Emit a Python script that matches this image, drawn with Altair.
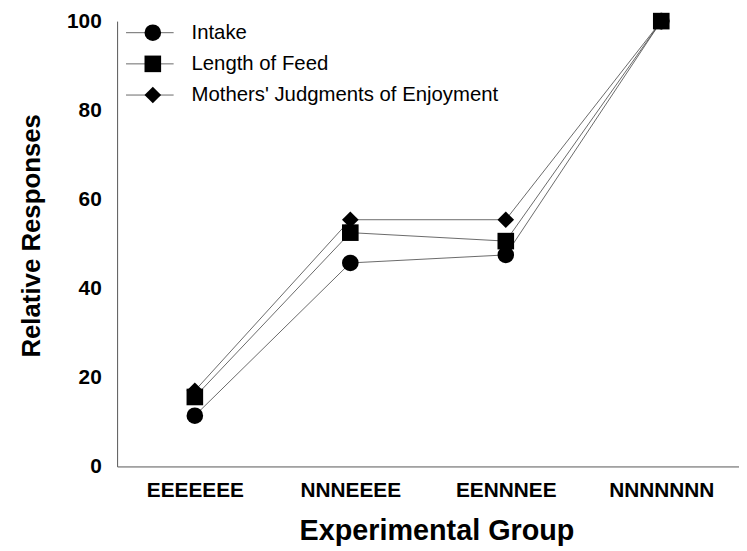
import altair as alt
import pandas as pd

groups = ["EEEEEEE", "NNNEEEE", "EENNNEE", "NNNNNNN"]
series = ["Intake", "Length of Feed", "Mothers' Judgments of Enjoyment"]
shapes = ["circle", "square", "diamond"]
intake = [11.4, 45.7, 47.5, 100]
length_of_feed = [15.6, 52.5, 50.6, 100]
mothers = [17.0, 55.4, 55.4, 100]

values = {series[0]: intake, series[1]: length_of_feed, series[2]: mothers}
draw_order = {series[2]: 0, series[0]: 1, series[1]: 2}

rows = []
for s in series:
    for g, v in zip(groups, values[s]):
        rows.append({"group": g, "series": s, "value": v, "order": draw_order[s]})
df = pd.DataFrame(rows).sort_values("order")

leg = pd.DataFrame({"series": series, "idx": list(range(len(series)))})

FONT = "Liberation Sans"

x_enc = alt.X(
    "group:N",
    sort=groups,
    scale=alt.Scale(type="point", padding=0.5),
    axis=alt.Axis(
        title="Experimental Group",
        labelAngle=0,
        ticks=False,
        tickSize=0,
        grid=False,
        labelPadding=30,
        labelBaseline="alphabetic",
        labelFont=FONT,
        labelFontSize=21,
        labelFontWeight="bold",
        labelColor="black",
        titleFont=FONT,
        titleFontSize=29,
        titleFontWeight="bold",
        titleColor="black",
        titleBaseline="alphabetic",
        titleAnchor="start",
        titleAlign="center",
        titleX=322,
        titleY=74,
        domainColor="#555555",
        domainWidth=1,
    ),
)
y_enc = alt.Y(
    "value:Q",
    scale=alt.Scale(domain=[0, 100], nice=False),
    axis=alt.Axis(
        title="Relative Responses",
        values=[0, 20, 40, 60, 80, 100],
        ticks=False,
        tickSize=0,
        grid=False,
        labelPadding=16,
        labelFont=FONT,
        labelFontSize=21,
        labelFontWeight="bold",
        labelColor="black",
        labelBaseline="middle",
        titleFont=FONT,
        titleFontSize=26,
        titleFontWeight="bold",
        titleColor="black",
        titleAngle=270,
        titleBaseline="alphabetic",
        titleAlign="center",
        titleX=-78,
        titleY=216,
        domainColor="#555555",
        domainWidth=1,
    ),
)

shape_scale = alt.Scale(domain=series, range=shapes)

lines = alt.Chart(df).mark_line(color="#444444", strokeWidth=0.8).encode(
    x=x_enc, y=y_enc, detail="series:N"
)
points = alt.Chart(df).mark_point(filled=True, color="black", size=280, opacity=1).encode(
    x=x_enc,
    y=y_enc,
    shape=alt.Shape("series:N", scale=shape_scale, legend=None),
    order=alt.Order("order:Q"),
)

# legend rows placed near the top of the plot (layout only)
leg_base = alt.Chart(leg).transform_calculate(ly="97.4 - datum.idx * 7.0")
leg_y = alt.Y("ly:Q")
leg_rule = leg_base.mark_rule(color="#444444", strokeWidth=0.8).encode(
    x=alt.value(9), x2=alt.value(57), y=leg_y
)
leg_pts = leg_base.mark_point(filled=True, color="black", size=280, opacity=1).encode(
    x=alt.value(36),
    y=leg_y,
    shape=alt.Shape("series:N", scale=shape_scale, legend=None),
)
leg_txt = leg_base.mark_text(
    align="left", baseline="middle", font=FONT, fontSize=20.5, color="black", dy=0
).encode(x=alt.value(75), y=leg_y, text="series:N")

chart = (
    alt.layer(lines, points, leg_rule, leg_pts, leg_txt)
    .properties(
        width=627,
        height=449,
        background="white",
        autosize=alt.AutoSizeParams(type="none"),
        padding={"left": 110, "top": 11, "right": 0, "bottom": 80},
    )
    .configure_view(strokeWidth=0, stroke="transparent")
)

chart.save("out.html", embed_options={"renderer": "svg", "actions": False})
